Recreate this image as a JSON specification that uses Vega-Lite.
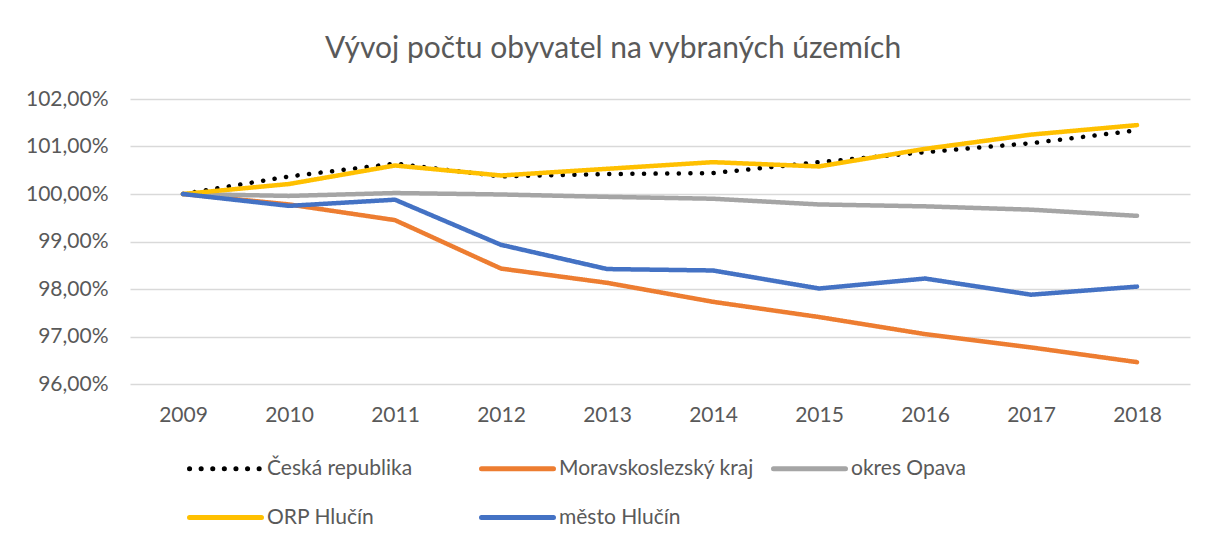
{
  "$schema": "https://vega.github.io/schema/vega-lite/v6.json",
  "autosize": {"type": "none"},
  "width": 1060,
  "height": 285,
  "padding": {"left": 130, "top": 99, "right": 18, "bottom": 156},
  "background": "white",
  "title": {
    "text": "Vývoj počtu obyvatel na vybraných územích",
    "font": "Lato",
    "fontSize": 30,
    "fontWeight": "normal",
    "color": "#595959",
    "anchor": "middle",
    "dx": -47,
    "offset": 24
  },
  "data": {
    "values": [
      {"rok": "2009", "serie": "Česká republika", "hodnota": 100.0},
      {"rok": "2010", "serie": "Česká republika", "hodnota": 100.37},
      {"rok": "2011", "serie": "Česká republika", "hodnota": 100.64},
      {"rok": "2012", "serie": "Česká republika", "hodnota": 100.37},
      {"rok": "2013", "serie": "Česká republika", "hodnota": 100.42},
      {"rok": "2014", "serie": "Česká republika", "hodnota": 100.44},
      {"rok": "2015", "serie": "Česká republika", "hodnota": 100.67},
      {"rok": "2016", "serie": "Česká republika", "hodnota": 100.88},
      {"rok": "2017", "serie": "Česká republika", "hodnota": 101.07},
      {"rok": "2018", "serie": "Česká republika", "hodnota": 101.34},
      {"rok": "2009", "serie": "Moravskoslezský kraj", "hodnota": 100.0},
      {"rok": "2010", "serie": "Moravskoslezský kraj", "hodnota": 99.78},
      {"rok": "2011", "serie": "Moravskoslezský kraj", "hodnota": 99.45},
      {"rok": "2012", "serie": "Moravskoslezský kraj", "hodnota": 98.43},
      {"rok": "2013", "serie": "Moravskoslezský kraj", "hodnota": 98.13},
      {"rok": "2014", "serie": "Moravskoslezský kraj", "hodnota": 97.73},
      {"rok": "2015", "serie": "Moravskoslezský kraj", "hodnota": 97.41},
      {"rok": "2016", "serie": "Moravskoslezský kraj", "hodnota": 97.05},
      {"rok": "2017", "serie": "Moravskoslezský kraj", "hodnota": 96.77},
      {"rok": "2018", "serie": "Moravskoslezský kraj", "hodnota": 96.46},
      {"rok": "2009", "serie": "okres Opava", "hodnota": 100.0},
      {"rok": "2010", "serie": "okres Opava", "hodnota": 99.96},
      {"rok": "2011", "serie": "okres Opava", "hodnota": 100.02},
      {"rok": "2012", "serie": "okres Opava", "hodnota": 99.99},
      {"rok": "2013", "serie": "okres Opava", "hodnota": 99.94},
      {"rok": "2014", "serie": "okres Opava", "hodnota": 99.9},
      {"rok": "2015", "serie": "okres Opava", "hodnota": 99.78},
      {"rok": "2016", "serie": "okres Opava", "hodnota": 99.74},
      {"rok": "2017", "serie": "okres Opava", "hodnota": 99.67},
      {"rok": "2018", "serie": "okres Opava", "hodnota": 99.54},
      {"rok": "2009", "serie": "ORP Hlučín", "hodnota": 100.0},
      {"rok": "2010", "serie": "ORP Hlučín", "hodnota": 100.21},
      {"rok": "2011", "serie": "ORP Hlučín", "hodnota": 100.6},
      {"rok": "2012", "serie": "ORP Hlučín", "hodnota": 100.39},
      {"rok": "2013", "serie": "ORP Hlučín", "hodnota": 100.53},
      {"rok": "2014", "serie": "ORP Hlučín", "hodnota": 100.67},
      {"rok": "2015", "serie": "ORP Hlučín", "hodnota": 100.58},
      {"rok": "2016", "serie": "ORP Hlučín", "hodnota": 100.95},
      {"rok": "2017", "serie": "ORP Hlučín", "hodnota": 101.25},
      {"rok": "2018", "serie": "ORP Hlučín", "hodnota": 101.45},
      {"rok": "2009", "serie": "město Hlučín", "hodnota": 100.0},
      {"rok": "2010", "serie": "město Hlučín", "hodnota": 99.75},
      {"rok": "2011", "serie": "město Hlučín", "hodnota": 99.88},
      {"rok": "2012", "serie": "město Hlučín", "hodnota": 98.93},
      {"rok": "2013", "serie": "město Hlučín", "hodnota": 98.42},
      {"rok": "2014", "serie": "město Hlučín", "hodnota": 98.39},
      {"rok": "2015", "serie": "město Hlučín", "hodnota": 98.01},
      {"rok": "2016", "serie": "město Hlučín", "hodnota": 98.22},
      {"rok": "2017", "serie": "město Hlučín", "hodnota": 97.88},
      {"rok": "2018", "serie": "město Hlučín", "hodnota": 98.05}
    ]
  },
  "mark": {"type": "line", "strokeWidth": 4.5, "strokeCap": "round", "strokeJoin": "round"},
  "encoding": {
    "x": {
      "field": "rok",
      "type": "ordinal",
      "scale": {"type": "point", "padding": 0.5},
      "axis": {
        "title": null,
        "labelAngle": 0,
        "labelFont": "Lato",
        "labelFontSize": 21,
        "labelColor": "#595959",
        "labelPadding": 20,
        "ticks": false,
        "tickSize": 0,
        "domain": false,
        "grid": false
      }
    },
    "y": {
      "field": "hodnota",
      "type": "quantitative",
      "scale": {"domain": [96, 102], "zero": false, "nice": false},
      "axis": {
        "title": null,
        "values": [96, 97, 98, 99, 100, 101, 102],
        "labelExpr": "replace(format(datum.value, '.2f'), '.', ',') + '%'",
        "labelFont": "Lato",
        "labelFontSize": 21,
        "labelColor": "#595959",
        "labelPadding": 22,
        "ticks": false,
        "tickSize": 0,
        "domain": false,
        "grid": true,
        "gridColor": "#d9d9d9",
        "gridWidth": 1.3
      }
    },
    "color": {
      "field": "serie",
      "type": "nominal",
      "sort": ["Česká republika", "Moravskoslezský kraj", "okres Opava", "ORP Hlučín", "město Hlučín"],
      "scale": {
        "domain": ["Česká republika", "Moravskoslezský kraj", "okres Opava", "ORP Hlučín", "město Hlučín"],
        "range": ["#000000", "#ED7D31", "#A5A5A5", "#FFC000", "#4472C4"]
      },
      "legend": {
        "title": null,
        "orient": "none",
        "legendX": 57,
        "legendY": 331,
        "direction": "horizontal",
        "columns": 3,
        "gridAlign": "all",
        "columnPadding": 9,
        "rowPadding": -38,
        "padding": 0,
        "symbolType": "stroke",
        "symbolSize": 5184,
        "symbolStrokeWidth": 5,
        "labelFont": "Lato",
        "labelFontSize": 21,
        "labelColor": "#595959",
        "labelOffset": 3,
        "labelLimit": 400,
        "encode": {"symbols": {"update": {"strokeCap": {"value": "round"}}}}
      }
    },
    "strokeDash": {
      "field": "serie",
      "type": "nominal",
      "sort": ["Česká republika", "Moravskoslezský kraj", "okres Opava", "ORP Hlučín", "město Hlučín"],
      "scale": {
        "domain": ["Česká republika", "Moravskoslezský kraj", "okres Opava", "ORP Hlučín", "město Hlučín"],
        "range": [[0.1, 11.5], [1, 0], [1, 0], [1, 0], [1, 0]]
      },
      "legend": {
        "title": null,
        "orient": "none",
        "legendX": 57,
        "legendY": 331,
        "direction": "horizontal",
        "columns": 3,
        "gridAlign": "all",
        "columnPadding": 9,
        "rowPadding": -38,
        "padding": 0,
        "symbolType": "stroke",
        "symbolSize": 5184,
        "symbolStrokeWidth": 5,
        "labelFont": "Lato",
        "labelFontSize": 21,
        "labelColor": "#595959",
        "labelOffset": 3,
        "labelLimit": 400,
        "encode": {"symbols": {"update": {"strokeCap": {"value": "round"}}}}
      }
    }
  },
  "config": {"view": {"stroke": null}}
}
